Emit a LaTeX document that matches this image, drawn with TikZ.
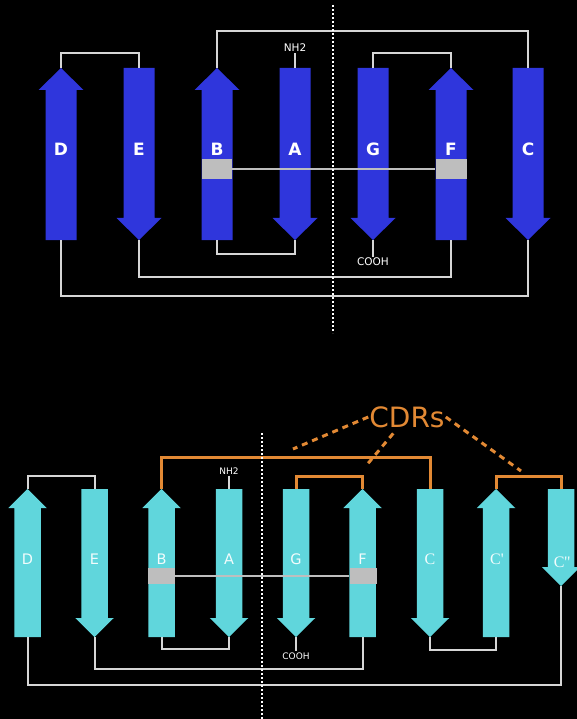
\documentclass[tikz,border=0pt]{standalone}
\usepackage{fontspec}
\setmainfont{DejaVu Sans}
\newfontfamily\strandserif{Liberation Serif}
\usepackage{xcolor}
\usepackage{tikz}
\usetikzlibrary{positioning}

\definecolor{strandblue}{RGB}{47,54,220}
\definecolor{strandcyan}{RGB}{96,214,220}
\definecolor{cdrorange}{RGB}{226,137,52}
\definecolor{linkgray}{RGB}{214,214,214}
\definecolor{hbondgray}{RGB}{190,190,190}

% strand geometry: half shaft width, half head width, head length
\newcommand{\shaftw}{15.5}
\newcommand{\headw}{22.5}
\newcommand{\headl}{22}

% #1 name, #2 x, #3 top y, #4 bottom y
\newcommand{\upstrand}[4]{%
  \fill[strand] (#2-\shaftw,#4) -- (#2-\shaftw,#3+\headl) -- (#2-\headw,#3+\headl) -- (#2,#3)
    -- (#2+\headw,#3+\headl) -- (#2+\shaftw,#3+\headl) -- (#2+\shaftw,#4) -- cycle;
  \coordinate (#1-top) at (#2,#3);
  \coordinate (#1-bot) at (#2,#4);}
\newcommand{\downstrand}[4]{%
  \fill[strand] (#2-\shaftw,#3) -- (#2-\shaftw,#4-\headl) -- (#2-\headw,#4-\headl) -- (#2,#4)
    -- (#2+\headw,#4-\headl) -- (#2+\shaftw,#4-\headl) -- (#2+\shaftw,#3) -- cycle;
  \coordinate (#1-top) at (#2,#3);
  \coordinate (#1-bot) at (#2,#4);}

\tikzset{
  strand/.style={fill=strandblue},
  strandlink/.style={draw=linkgray,line width=2pt},
  cdrloop/.style={draw=cdrorange,line width=3pt},
  cdrlink/.style={draw=cdrorange,line width=3pt,dash pattern=on 6pt off 5pt},
  hbond/.style={fill=hbondgray,inner sep=0pt},
  hbline/.style={draw=hbondgray,line width=1.2pt},
  divider/.style={draw=white,line width=1.6pt,dash pattern=on 2pt off 2pt},
  toplabel/.style={text=white,font=\bfseries\fontsize{17}{17}\selectfont},
  vlabel/.style={text=white!92!strandcyan,font=\fontsize{14.5}{14.5}\selectfont},
  vserif/.style={text=white!92!strandcyan,font=\strandserif\fontsize{16}{16}\selectfont},
  endlabel/.style={text=white,inner sep=1pt}
}

\begin{document}
\begin{tikzpicture}[x=1pt,y=-1pt]
  \useasboundingbox (0,0) rectangle (577,719);
  \fill[black] (0,0) rectangle (577,719);

  % Constant domain sheet
  \upstrand{cD}{61}{68}{240}
  \downstrand{cE}{139}{68}{240}
  \upstrand{cB}{217}{68}{240}
  \downstrand{cA}{295}{68}{240}
  \downstrand{cG}{373}{68}{240}
  \upstrand{cF}{451}{68}{240}
  \downstrand{cC}{528}{68}{240}

  \node[hbond,minimum width=30pt,minimum height=20pt] (cB-hb) at (217,169) {};
  \node[hbond,minimum width=31pt,minimum height=20pt] (cF-hb) at (451,169) {};
  \draw[hbline] (cB-hb) -- (cF-hb);

  \node[toplabel] (cD-label) at (61,149) {D};
  \node[toplabel] (cE-label) at (139,149) {E};
  \node[toplabel] (cB-label) at (217,149) {B};
  \node[toplabel] (cA-label) at (295,149) {A};
  \node[toplabel] (cG-label) at (373,149) {G};
  \node[toplabel] (cF-label) at (451,149) {F};
  \node[toplabel] (cC-label) at (528,149) {C};

  % loops between strands
  \draw[strandlink] (cD-top) -- ++(0,-15) -| (cE-top);
  \draw[strandlink] (cB-top) -- ++(0,-37) -| (cC-top);
  \draw[strandlink] (cG-top) -- ++(0,-15) -| (cF-top);
  \draw[strandlink] (cB-bot) -- ++(0,14) -| (cA-bot);
  \draw[strandlink] (cE-bot) -- ++(0,37) -| (cF-bot);
  \draw[strandlink] (cD-bot) -- ++(0,56) -| (cC-bot);

  \node[endlabel,font=\fontsize{10.5}{10.5}\selectfont] (cN) at (295,48) {NH2};
  \draw[strandlink] (cN) -- (cA-top);
  \node[endlabel,font=\fontsize{10.5}{10.5}\selectfont] (cCterm) at (373,262) {COOH};
  \draw[strandlink] (cG-bot) -- (cCterm);

  \coordinate (cdiv-top) at (333,5);
  \coordinate (cdiv-bot) at (333,333);
  \draw[divider] (cdiv-top) -- (cdiv-bot);

  % Variable domain sheet
\begin{scope}[strand/.style={fill=strandcyan}]
  \renewcommand{\shaftw}{13.25}
  \renewcommand{\headw}{19.25}
  \renewcommand{\headl}{19}
  \upstrand{vD}{27.5}{489}{637}
  \downstrand{vE}{94.5}{489}{637}
  \upstrand{vB}{161.5}{489}{637}
  \downstrand{vA}{229}{489}{637}
  \downstrand{vG}{296}{489}{637}
  \upstrand{vF}{362.5}{489}{637}
  \downstrand{vC}{430}{489}{637}
  \upstrand{vCp}{496}{489}{637}
  \downstrand{vCpp}{561}{489}{586}
\end{scope}

  \node[hbond,minimum width=27pt,minimum height=16pt] (vB-hb) at (161.5,576) {};
  \node[hbond,minimum width=27pt,minimum height=16pt] (vF-hb) at (363,576) {};
  \draw[hbline] (vB-hb) -- (vF-hb);

  \node[vlabel] (vD-label) at (27.5,559) {D};
  \node[vlabel] (vE-label) at (94.5,559) {E};
  \node[vlabel] (vB-label) at (161.5,559) {B};
  \node[vlabel] (vA-label) at (229,559) {A};
  \node[vlabel] (vG-label) at (296,559) {G};
  \node[vlabel] (vF-label) at (362.5,559) {F};
  \node[vserif] (vC-label) at (430,559) {C};
  \node[vserif] (vCp-label) at (497,559) {C\textquotesingle};
  \node[vserif] (vCpp-label) at (562,562) {C\textquotesingle\textquotesingle};

  \draw[strandlink] (vD-top) -- ++(0,-13) -| (vE-top);
  \draw[strandlink] (vB-bot) -- ++(0,12) -| (vA-bot);
  \draw[strandlink] (vE-bot) -- ++(0,32) -| (vF-bot);
  \draw[strandlink] (vC-bot) -- ++(0,13) -| (vCp-bot);
  \draw[strandlink] (vD-bot) -- ++(0,48) -| (vCpp-bot);

  % hypervariable loops
  \draw[cdrloop] (vB-top) -- ++(0,-32) -| (vC-top);
  \draw[cdrloop] (vG-top) -- ++(0,-13) -| (vF-top);
  \draw[cdrloop] (vCp-top) -- ++(0,-13) -| (vCpp-top);

  \node[endlabel,font=\fontsize{9}{9}\selectfont] (vN) at (229,471) {NH2};
  \draw[strandlink] (vN) -- (vA-top);
  \node[endlabel,font=\fontsize{9}{9}\selectfont] (vCterm) at (296,656) {COOH};
  \draw[strandlink] (vG-bot) -- (vCterm);

  \node[text=cdrorange,inner sep=1pt,font=\fontsize{28}{28}\selectfont] (cdrs) at (407,417) {CDRs};
  \coordinate (cdr1) at (293,449);
  \coordinate (cdr2) at (365,467);
  \coordinate (cdr3) at (521,471);
  \draw[cdrlink] (cdrs.west) -- (cdr1);
  \draw[cdrlink,shorten <=6pt] (cdrs) -- (cdr2);
  \draw[cdrlink] (cdrs.east) -- (cdr3);

  \coordinate (vdiv-top) at (262,433);
  \coordinate (vdiv-bot) at (262,719);
  \draw[divider] (vdiv-top) -- (vdiv-bot);
\end{tikzpicture}
\end{document}
